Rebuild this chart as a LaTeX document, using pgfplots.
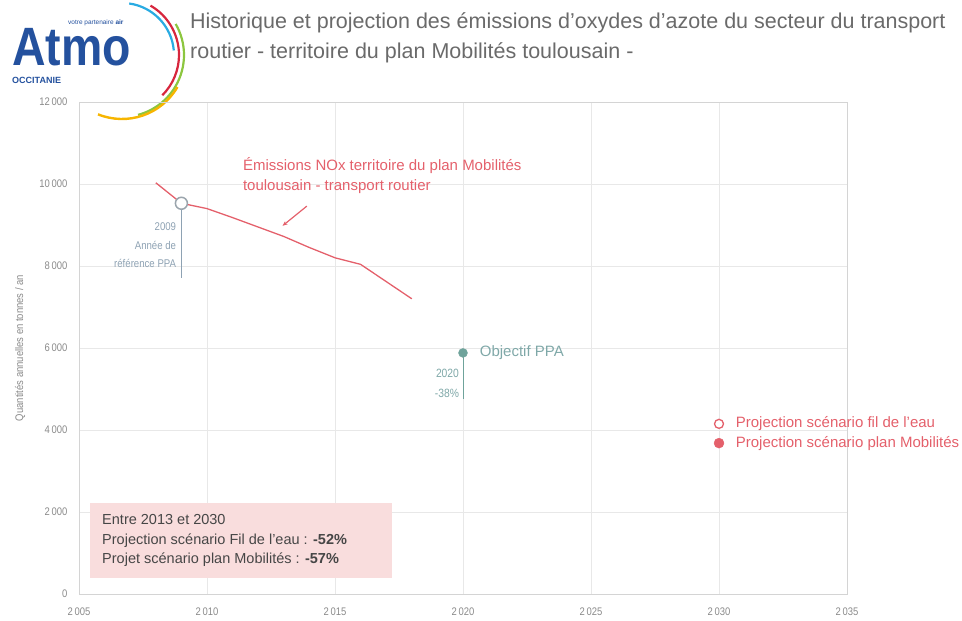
\documentclass[border=0pt]{standalone}
\usepackage{pgfplots}
\pgfplotsset{compat=1.18}
\usetikzlibrary{arrows.meta}
\usepackage{fontspec}
\setmainfont{Liberation Sans}
\newfontfamily\condfont{Liberation Sans}[FakeStretch=0.86]
\definecolor{redl}{HTML}{E4606B}
\definecolor{gridc}{HTML}{E8E8E8}
\definecolor{axc}{HTML}{D4D4D4}
\definecolor{tickc}{HTML}{8A8A8A}
\definecolor{refc}{HTML}{8EA2B3}
\definecolor{objc}{HTML}{6FA39B}
\definecolor{objt}{HTML}{7FA8A8}
\definecolor{titc}{HTML}{6A6A6A}
\definecolor{boxc}{HTML}{F9DDDD}
\definecolor{atmo}{HTML}{24519E}
\pgfplotstableread{
x y
2008 10030
2009 9530
2010 9400
2011 9180
2012 8950
2013 8720
2014 8450
2015 8200
2016 8040
2017 7620
2018 7200
}\nox
\begin{document}
\begin{tikzpicture}
\useasboundingbox (0pt,0pt) rectangle (962pt,621pt);
% logo
\node[anchor=base west,inner sep=0,text depth=0pt,text height=38pt,text=atmo,font=\condfont\fontsize{54}{54}\selectfont\bfseries] at (12pt,555pt) {Atmo};
\node[anchor=base west,inner sep=0,text=atmo,font=\fontsize{6.5}{6.5}\selectfont] at (68pt,596pt) {votre partenaire \textbf{air}};
\node[anchor=base west,inner sep=0,text=atmo,font=\fontsize{9}{9}\selectfont\bfseries] at (12pt,537pt) {OCCITANIE};
\draw[line width=2.2pt,color={rgb,255:red,41;green,171;blue,226}] (122pt,566pt)++(82:52pt) arc[start angle=82,end angle=5,radius=52pt];
\draw[line width=2.2pt,color={rgb,255:red,215;green,38;blue,61}] (122pt,566pt)++(60:57pt) arc[start angle=60,end angle=-45,radius=57pt];
\draw[line width=2.2pt,color={rgb,255:red,140;green,198;blue,63}] (122pt,566pt)++(30:62pt) arc[start angle=30,end angle=-75,radius=62pt];
\draw[line width=2.4pt,color={rgb,255:red,247;green,181;blue,0}] (122pt,566pt)++(-30:64pt) arc[start angle=-30,end angle=-112,radius=64pt];
% title
\node[anchor=base west,inner sep=0,text=titc,font=\fontsize{21.5}{21.5}\selectfont] at (190pt,592pt) {Historique et projection des émissions d'oxydes d'azote du secteur du transport};
\node[anchor=base west,inner sep=0,text=titc,font=\fontsize{21.5}{21.5}\selectfont] at (190pt,562pt) {routier - territoire du plan Mobilités toulousain -};
\begin{axis}[
  at={(79pt,27pt)}, anchor=south west,
  width=768pt, height=492pt, scale only axis,
  xmin=2005, xmax=2035, ymin=0, ymax=12000,
  xtick={2005,2010,...,2035}, ytick={0,2000,...,12000},
  scaled y ticks=false, scaled x ticks=false,
  grid=major, major grid style={gridc, line width=0.6pt},
  axis line style={axc, line width=0.8pt},
  tick style={draw=none},
  ticklabel style={text=tickc, font=\condfont\fontsize{11}{11}\selectfont},
  /pgf/number format/.cd, 1000 sep={\,}, assume math mode=true, /pgfplots/.cd,
  xticklabel style={yshift=-10pt},
  yticklabel style={xshift=-8pt},
  ylabel={Quantités annuelles en tonnes / an},
  ylabel style={text=tickc, font=\condfont\fontsize{11}{11}\selectfont, at={(axis description cs:-0.0768,0.5)}, anchor=center},
  clip=false,
]
\fill[boxc] (axis cs:2005.43,380) rectangle (axis cs:2017.23,2230);
\node[anchor=west, align=left, text={rgb,255:red,70;green,70;blue,70}, font=\fontsize{14.5}{19.5}\selectfont, inner sep=0] at (axis cs:2005.9,1300)
  {Entre 2013 et 2030\\Projection scénario Fil de l'eau : \textbf{-52\%}\\Projet scénario plan Mobilités : \textbf{-57\%}};
\addplot[redl, line width=1.3pt, no marks] table[x=x,y=y] {\nox};
\draw[refc, line width=1pt] (axis cs:2009,9400) -- (axis cs:2009,7700);
\addplot[only marks, mark=*, mark size=6pt, mark options={draw={rgb,255:red,155;green,165;blue,173}, fill=white, line width=1.5pt}] coordinates {(2009,9530)};
\node[anchor=north east, align=right, text=refc, font=\condfont\fontsize{11.2}{18.5}\selectfont, inner sep=0] at (axis cs:2008.8,9060)
  {2009\\Année de\\référence PPA};
\draw[objc, line width=1pt] (axis cs:2020,5800) -- (axis cs:2020,4750);
\addplot[only marks, mark=*, mark size=4.5pt, mark options={draw=objc, fill=objc}] coordinates {(2020,5880)};
\node[anchor=west, text=objt, font=\fontsize{15}{15}\selectfont, inner sep=0] at (axis cs:2020.65,5880) {Objectif PPA};
\node[anchor=north east, align=right, text=objt, font=\condfont\fontsize{12}{19.5}\selectfont, inner sep=0] at (axis cs:2019.85,5480) {2020\\-38\%};
\addplot[only marks, mark=*, mark size=4.5pt, mark options={draw=redl, fill=white, line width=1.3pt}] coordinates {(2030,4150)};
\addplot[only marks, mark=*, mark size=5pt, mark options={draw=redl, fill=redl}] coordinates {(2030,3680)};
\node[anchor=west, text=redl, font=\fontsize{15}{15}\selectfont, inner sep=0] at (axis cs:2030.65,4150) {Projection scénario fil de l'eau};
\node[anchor=west, text=redl, font=\fontsize{15}{15}\selectfont, inner sep=0] at (axis cs:2030.65,3680) {Projection scénario plan Mobilités};
\node[anchor=west, align=left, text=redl, font=\fontsize{15}{20}\selectfont, inner sep=0] at (axis cs:2011.4,10210)
  {Émissions NOx territoire du plan Mobilités\\toulousain - transport routier};
\draw[redl, line width=1.2pt, -{Stealth[length=5pt,width=4pt]}] (axis cs:2013.9,9460) -- (axis cs:2012.95,8980);
\end{axis}
\end{tikzpicture}
\end{document}
